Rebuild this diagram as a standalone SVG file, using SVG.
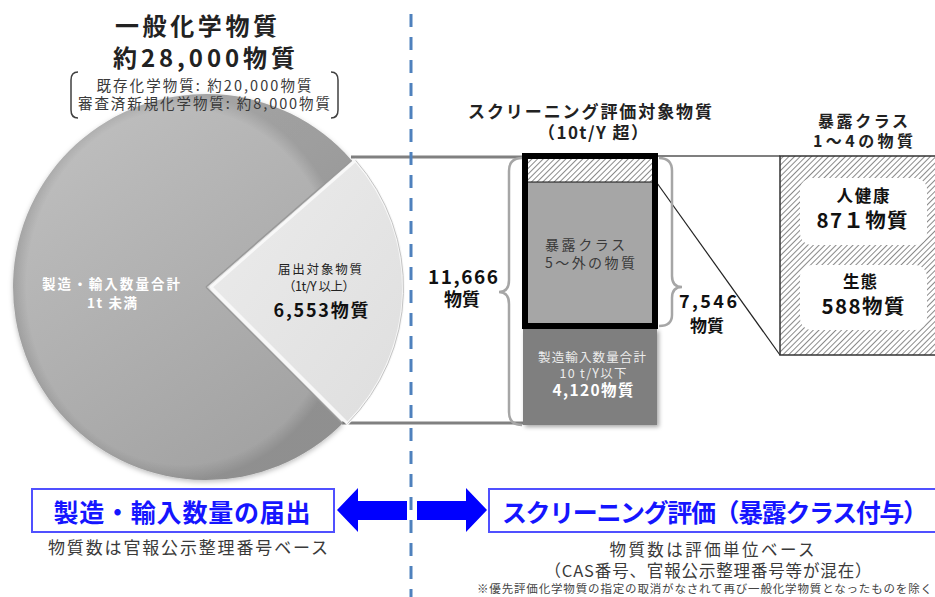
<svg xmlns="http://www.w3.org/2000/svg" width="935" height="597" viewBox="0 0 935 597">
<defs>
<style>
text{font-family:"Noto Sans CJK JP","Noto Sans",sans-serif;text-anchor:middle}
.b{font-weight:bold}
.dk{fill:#222}
.md{fill:#3a3a3a}
.wh{fill:#ffffff}
.lg{fill:#ececec}
.bl{fill:#1515ff;font-weight:bold}
.conn{fill:none}
</style>
<pattern id="hatch" width="4" height="4" patternUnits="userSpaceOnUse" patternTransform="rotate(45)">
<rect width="4" height="4" fill="#ffffff"/>
<line x1="0" y1="0" x2="0" y2="4" stroke="#4a4a4a" stroke-width="1.3"/>
</pattern>
<linearGradient id="pieG" x1="0" y1="0" x2="0.6" y2="1">
<stop offset="0" stop-color="#c2c2c2"/>
<stop offset="1" stop-color="#a3a3a3"/>
</linearGradient>
<radialGradient id="rim" cx="0.5" cy="0.5" r="0.5">
<stop offset="0.92" stop-color="#000" stop-opacity="0"/>
<stop offset="1" stop-color="#000" stop-opacity="0.12"/>
</radialGradient>
<linearGradient id="wedgeG" x1="0" y1="0" x2="1" y2="1">
<stop offset="0" stop-color="#ececec"/>
<stop offset="1" stop-color="#dedede"/>
</linearGradient>
<filter id="sh" x="-10%" y="-10%" width="130%" height="130%">
<feDropShadow dx="2" dy="2" stdDeviation="2" flood-color="#000" flood-opacity="0.35"/>
</filter>
<filter id="psh" x="-10%" y="-10%" width="120%" height="120%">
<feDropShadow dx="0" dy="2" stdDeviation="2.5" flood-color="#000" flood-opacity="0.25"/>
</filter>
</defs>
<rect width="935" height="597" fill="#ffffff"/>

<g id="connectors" class="conn">
<line x1="351" y1="157" x2="523" y2="157" stroke="#808080" stroke-width="3"/>
<line x1="342" y1="423" x2="523" y2="423" stroke="#808080" stroke-width="3"/>
<line x1="657" y1="156" x2="780" y2="156" stroke="#555" stroke-width="1.3"/>
<line x1="657" y1="183" x2="780" y2="355" stroke="#222" stroke-width="1.2"/>
<path d="M522,158 Q509,158 509,171 L509,280 Q509,292 499,292 Q509,292 509,304 L509,412 Q509,425 522,425" stroke="#a6a6a6" stroke-width="2.5"/>
<path d="M659,158 Q672,158 672,171 L672,276 Q672,287 682,287 Q672,287 672,298 L672,315 Q672,326 659,326" stroke="#a6a6a6" stroke-width="2.5"/>
</g>

<g id="divider">
<line x1="411" y1="14" x2="411" y2="597" stroke="#4f81bd" stroke-width="3" stroke-dasharray="13 10"/>
</g>

<g id="pie" filter="url(#psh)">
<path d="M206,287 L342.5,423.5 A193,193 0 1 1 351.7,160.4 Z" fill="url(#pieG)"/>
<path d="M206,287 L342.5,423.5 A193,193 0 1 1 351.7,160.4 Z" fill="url(#rim)"/>
<path d="M206,287 L351.7,160.4 M206,287 L342.5,423.5" stroke="#999" stroke-width="1.5" fill="none"/>
</g>
<g id="pie-main-label">
<text x="111" y="289" class="b wh" font-size="13.5" textLength="138">製造・輸入数量合計</text>
<text x="112" y="308" class="b wh" font-size="13.5" textLength="50">1t 未満</text>
</g>

<g id="pie-wedge">
<path d="M211,287 L355.7,160.4 A193,193 0 0 1 347.5,423.5 Z" fill="url(#wedgeG)" stroke="#f8f8f8" stroke-width="3" stroke-linejoin="round"/>
<path d="M355.7,160.4 A193,193 0 0 1 347.5,423.5" fill="none" stroke="#c4c4c4" stroke-width="1"/>
<text x="320" y="274" class="dk" font-size="12.5" textLength="84">届出対象物質</text>
<text x="319" y="291" class="dk" font-size="12.5" textLength="72">（1t/Y 以上）</text>
<text x="321" y="317" class="b" fill="#111" font-size="18" textLength="95">6,553物質</text>
</g>

<g id="title">
<text x="196" y="35" class="b dk" font-size="24" textLength="162">一般化学物質</text>
<text x="204" y="67" class="b dk" font-size="24" textLength="182">約28,000物質</text>
<text x="204" y="91" class="md" font-size="14.5" textLength="215">既存化学物質: 約20,000物質</text>
<text x="204" y="109" class="md" font-size="14.5" textLength="252">審査済新規化学物質: 約8,000物質</text>
<path d="M78,72 Q71,72 71,80 L71,110 Q71,118 78,118" fill="none" stroke="#404040" stroke-width="1.5"/>
<path d="M331,72 Q338,72 338,80 L338,110 Q338,118 331,118" fill="none" stroke="#404040" stroke-width="1.5"/>
</g>

<g id="screening-title">
<text x="590" y="118" class="b dk" font-size="17" textLength="244">スクリーニング評価対象物質</text>
<text x="593" y="139" class="b dk" font-size="17" textLength="110">（10t/Y 超）</text>
</g>

<g id="screening-box">
<rect x="525" y="156" width="130" height="26" fill="url(#hatch)"/>
<rect x="525" y="182" width="130" height="144" fill="#a6a6a6"/>
<line x1="525" y1="182" x2="655" y2="182" stroke="#111" stroke-width="1.2"/>
<rect x="525" y="156" width="130" height="170" fill="none" stroke="#000" stroke-width="6"/>
<text x="585" y="250" class="md" font-size="14" textLength="80">暴露クラス</text>
<text x="590" y="268" class="md" font-size="14" textLength="90">5～外の物質</text>
</g>

<g id="low-volume-box">
<rect x="523" y="329" width="134" height="96" fill="#7f7f7f" filter="url(#sh)"/>
<text x="592" y="362" class="lg" font-size="12.5" textLength="108">製造輸入数量合計</text>
<text x="593" y="378" class="lg" font-size="12.5" textLength="67">10 t/Y以下</text>
<text x="593" y="396" class="b wh" font-size="15.5" textLength="81">4,120物質</text>
</g>

<g id="count-11666">
<text x="463" y="284" class="b" fill="#111" font-size="19" textLength="70">11,666</text>
<text x="462" y="306" class="b" fill="#111" font-size="18">物質</text>
</g>

<g id="count-7546">
<text x="708" y="308" class="b" fill="#111" font-size="18" textLength="58">7,546</text>
<text x="707" y="332" class="b" fill="#111" font-size="17">物質</text>
</g>

<g id="exposure-title">
<text x="863" y="127" class="b dk" font-size="16" textLength="90">暴露クラス</text>
<text x="863" y="147" class="b dk" font-size="16" textLength="100">1～4の物質</text>
</g>

<g id="exposure-box">
<rect x="780" y="156" width="160" height="199" fill="url(#hatch)" stroke="#333" stroke-width="1.5"/>
</g>
<g id="human-health">
<rect x="800" y="178" width="127" height="67" rx="12" fill="#ffffff"/>
<text x="863" y="202" class="b" fill="#111" font-size="16.5" textLength="53">人健康</text>
<text x="862" y="228" class="b" fill="#111" font-size="20.5" textLength="91">87１物質</text>
</g>
<g id="ecology">
<rect x="800" y="265" width="127" height="65" rx="12" fill="#ffffff"/>
<text x="860" y="288" class="b" fill="#111" font-size="16.5" textLength="34">生態</text>
<text x="863" y="314" class="b" fill="#111" font-size="20.5" textLength="83">588物質</text>
</g>

<g id="arrows">
<polygon points="337,510 358,488 358,501 407,501 407,520 358,520 358,532" fill="#0000ff"/>
<polygon points="487,510 466,488 466,501 417,501 417,520 466,520 466,532" fill="#0000ff"/>
</g>

<g id="notification">
<rect x="32" y="489" width="302" height="43" fill="#ffffff" stroke="#5050ff" stroke-width="2"/>
<text x="182" y="522" class="bl" font-size="25" textLength="257">製造・輸入数量の届出</text>
<text x="188" y="554" class="md" font-size="17" textLength="280">物質数は官報公示整理番号ベース</text>
</g>

<g id="screening-eval">
<rect x="489" y="489" width="452" height="43" fill="#ffffff" stroke="#5050ff" stroke-width="2"/>
<text x="715" y="522" class="bl" font-size="25" textLength="426">スクリーニング評価（暴露クラス付与）</text>
<text x="712" y="556" class="md" font-size="16.5" textLength="205">物質数は評価単位ベース</text>
<text x="708" y="577" class="md" font-size="16.5" textLength="327">（CAS番号、官報公示整理番号等が混在）</text>
<text x="477" y="593" fill="#444" font-size="11.5" style="text-anchor:start" textLength="455">※優先評価化学物質の指定の取消がなされて再び一般化学物質となったものを除く</text>
</g>
</svg>
